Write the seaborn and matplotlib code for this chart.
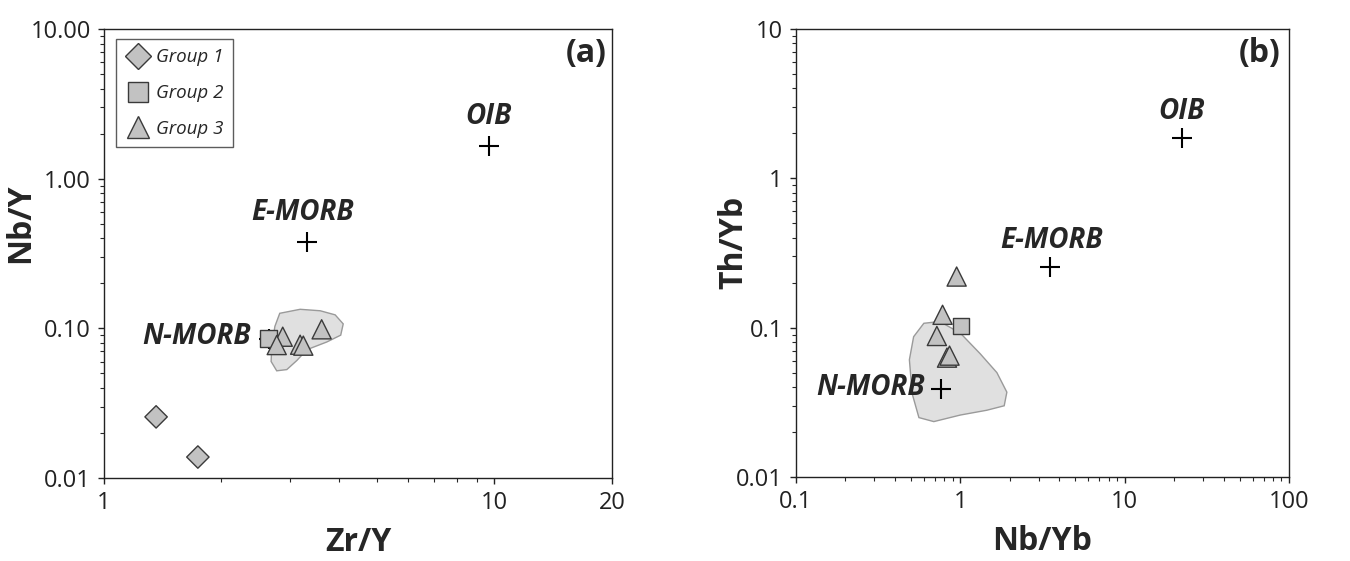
import numpy as np
import pandas as pd
import seaborn as sns
import matplotlib.pyplot as plt
from matplotlib.patches import Polygon
from matplotlib.lines import Line2D
from matplotlib.ticker import FixedLocator, NullFormatter

# ---- panel (a): Zr/Y vs Nb/Y
a_group = ["Group 1", "Group 1", "Group 2", "Group 3", "Group 3", "Group 3", "Group 3", "Group 3"]
a_zr_y = [1.36, 1.74, 2.64, 2.87, 2.77, 3.18, 3.24, 3.61]
a_nb_y = [0.0256, 0.0138, 0.0857, 0.0879, 0.0773, 0.0777, 0.0766, 0.0985]

# ---- panel (b): Nb/Yb vs Th/Yb
b_group = ["Group 2", "Group 3", "Group 3", "Group 3", "Group 3", "Group 3"]
b_nb_yb = [1.01, 0.95, 0.78, 0.72, 0.83, 0.86]
b_th_yb = [0.103, 0.220, 0.122, 0.088, 0.063, 0.065]

# reference compositions
ref_names = ["N-MORB", "E-MORB", "OIB"]
ref_zr_y = [2.64, 3.32, 9.66]
ref_nb_y = [0.085, 0.377, 1.66]
ref_nb_yb = [0.76, 3.50, 22.2]
ref_th_yb = [0.039, 0.253, 1.85]

# shaded fields
field_a_x = [2.82, 3.18, 3.58, 3.91, 4.10, 4.04, 3.72, 3.31, 3.12, 2.94, 2.77, 2.68, 2.69, 2.74]
field_a_y = [0.126, 0.134, 0.131, 0.123, 0.107, 0.090, 0.081, 0.072, 0.061, 0.053, 0.052, 0.060, 0.075, 0.103]
field_b_x = [0.60, 0.75, 1.00, 1.32, 1.67, 1.92, 1.85, 1.45, 1.00, 0.69, 0.56, 0.51, 0.49, 0.52]
field_b_y = [0.107, 0.110, 0.092, 0.067, 0.050, 0.037, 0.030, 0.028, 0.026, 0.0235, 0.025, 0.036, 0.061, 0.087]

groups = ["Group 1", "Group 2", "Group 3"]
markers = {"Group 1": "D", "Group 2": "s", "Group 3": "^"}
sizes = {"Group 1": 130, "Group 2": 140, "Group 3": 190}
fill = "#c2c2c2"
edge = "#3a3a3a"

sns.set_style("ticks")
plt.rcParams["font.family"] = ["Open Sans", "DejaVu Sans"]

fig = plt.figure(figsize=(13.5, 5.61), dpi=100)
ax1 = fig.add_axes([0.0770, 0.148, 0.3763, 0.8003])
ax2 = fig.add_axes([0.5896, 0.1497, 0.3652, 0.7986])

df_a = pd.DataFrame({"x": a_zr_y, "y": a_nb_y, "group": a_group})
df_b = pd.DataFrame({"x": b_nb_yb, "y": b_th_yb, "group": b_group})
ref_a = pd.DataFrame({"x": ref_zr_y, "y": ref_nb_y, "name": ref_names})
ref_b = pd.DataFrame({"x": ref_nb_yb, "y": ref_th_yb, "name": ref_names})


def draw(ax, df, ref, fx, fy, label_offsets):
    ax.set_xscale("log")
    ax.set_yscale("log")
    ax.add_patch(Polygon(np.column_stack([fx, fy]), closed=True, facecolor="#e0e0e0",
                         edgecolor="#9a9a9a", linewidth=1.0, zorder=1))
    sns.scatterplot(data=ref, x="x", y="y", marker="+", s=210, color="black",
                    linewidth=1.5, legend=False, ax=ax, zorder=2)
    sns.scatterplot(data=df, x="x", y="y", style="group", markers=markers,
                    size="group", sizes=sizes, color=fill, edgecolor=edge,
                    linewidth=1.0, legend=False, ax=ax, zorder=3)
    for (_, r), (dx, dy, ha) in zip(ref.iterrows(), label_offsets):
        ax.annotate(r["name"], (r["x"], r["y"]), xytext=(dx, dy), textcoords="offset pixels",
                    ha=ha, va="center", fontsize=20, fontweight="bold", fontstyle="italic")
    for s in ax.spines.values():
        s.set_color("#222222")
        s.set_linewidth(1.0)
    ax.tick_params(which="major", length=4.5, width=1, pad=5, labelsize=17,
                   colors="#222222", top=False, right=False)
    ax.tick_params(which="minor", length=3, width=0.8, top=False, right=False)
    ax.yaxis.set_minor_formatter(NullFormatter())
    ax.xaxis.set_minor_formatter(NullFormatter())


draw(ax1, df_a, ref_a, field_a_x, field_a_y,
     [(-18, 2, "right"), (-5, 30, "center"), (0, 29, "center")])
ax1.set_xlim(1, 20)
ax1.set_ylim(0.01, 10)
ax1.xaxis.set_major_locator(FixedLocator([1, 10, 20]))
ax1.xaxis.set_minor_locator(FixedLocator([2, 3, 4, 5, 6, 7, 8, 9]))
ax1.set_xticklabels(["1", "10", "20"])
ax1.yaxis.set_major_locator(FixedLocator([0.01, 0.1, 1, 10]))
ax1.set_yticklabels(["0.01", "0.10", "1.00", "10.00"])
ax1.set_xlabel("Zr/Y", fontsize=23, fontweight="bold", labelpad=8)
ax1.set_ylabel("Nb/Y", fontsize=23, fontweight="bold")
ax1.yaxis.set_label_coords(-0.132, 0.567)
ax1.text(0.99, 0.945, "(a)", transform=ax1.transAxes, ha="right", va="center",
         fontsize=23, fontweight="bold")

legend_ms = {"Group 1": 13.5, "Group 2": 14.5, "Group 3": 16.0}
handles = [Line2D([], [], linestyle="", marker=markers[g], markersize=legend_ms[g],
                  markerfacecolor=fill, markeredgecolor=edge, markeredgewidth=1.0, label=g)
           for g in groups]
leg = ax1.legend(handles=handles, loc="upper left", bbox_to_anchor=(0.024, 0.978),
                 frameon=True, fancybox=False, edgecolor="#333333", handletextpad=0.35,
                 handlelength=1.3, labelspacing=0.95, borderpad=0.5, borderaxespad=0,
                 prop={"size": 13.5, "style": "italic"})
leg.get_frame().set_linewidth(1.0)

draw(ax2, df_b, ref_b, field_b_x, field_b_y,
     [(-16, 1, "right"), (2, 27, "center"), (0, 27, "center")])
ax2.set_xlim(0.1, 100)
ax2.set_ylim(0.01, 10)
ax2.xaxis.set_major_locator(FixedLocator([0.1, 1, 10, 100]))
ax2.set_xticklabels(["0.1", "1", "10", "100"])
ax2.yaxis.set_major_locator(FixedLocator([0.01, 0.1, 1, 10]))
ax2.set_yticklabels(["0.01", "0.1", "1", "10"])
ax2.set_xlabel("Nb/Yb", fontsize=23, fontweight="bold", labelpad=8)
ax2.set_ylabel("Th/Yb", fontsize=23, fontweight="bold")
ax2.yaxis.set_label_coords(-0.093, 0.523)
ax2.text(0.982, 0.945, "(b)", transform=ax2.transAxes, ha="right", va="center",
         fontsize=23, fontweight="bold")

fig.savefig("out.png", dpi=100)
